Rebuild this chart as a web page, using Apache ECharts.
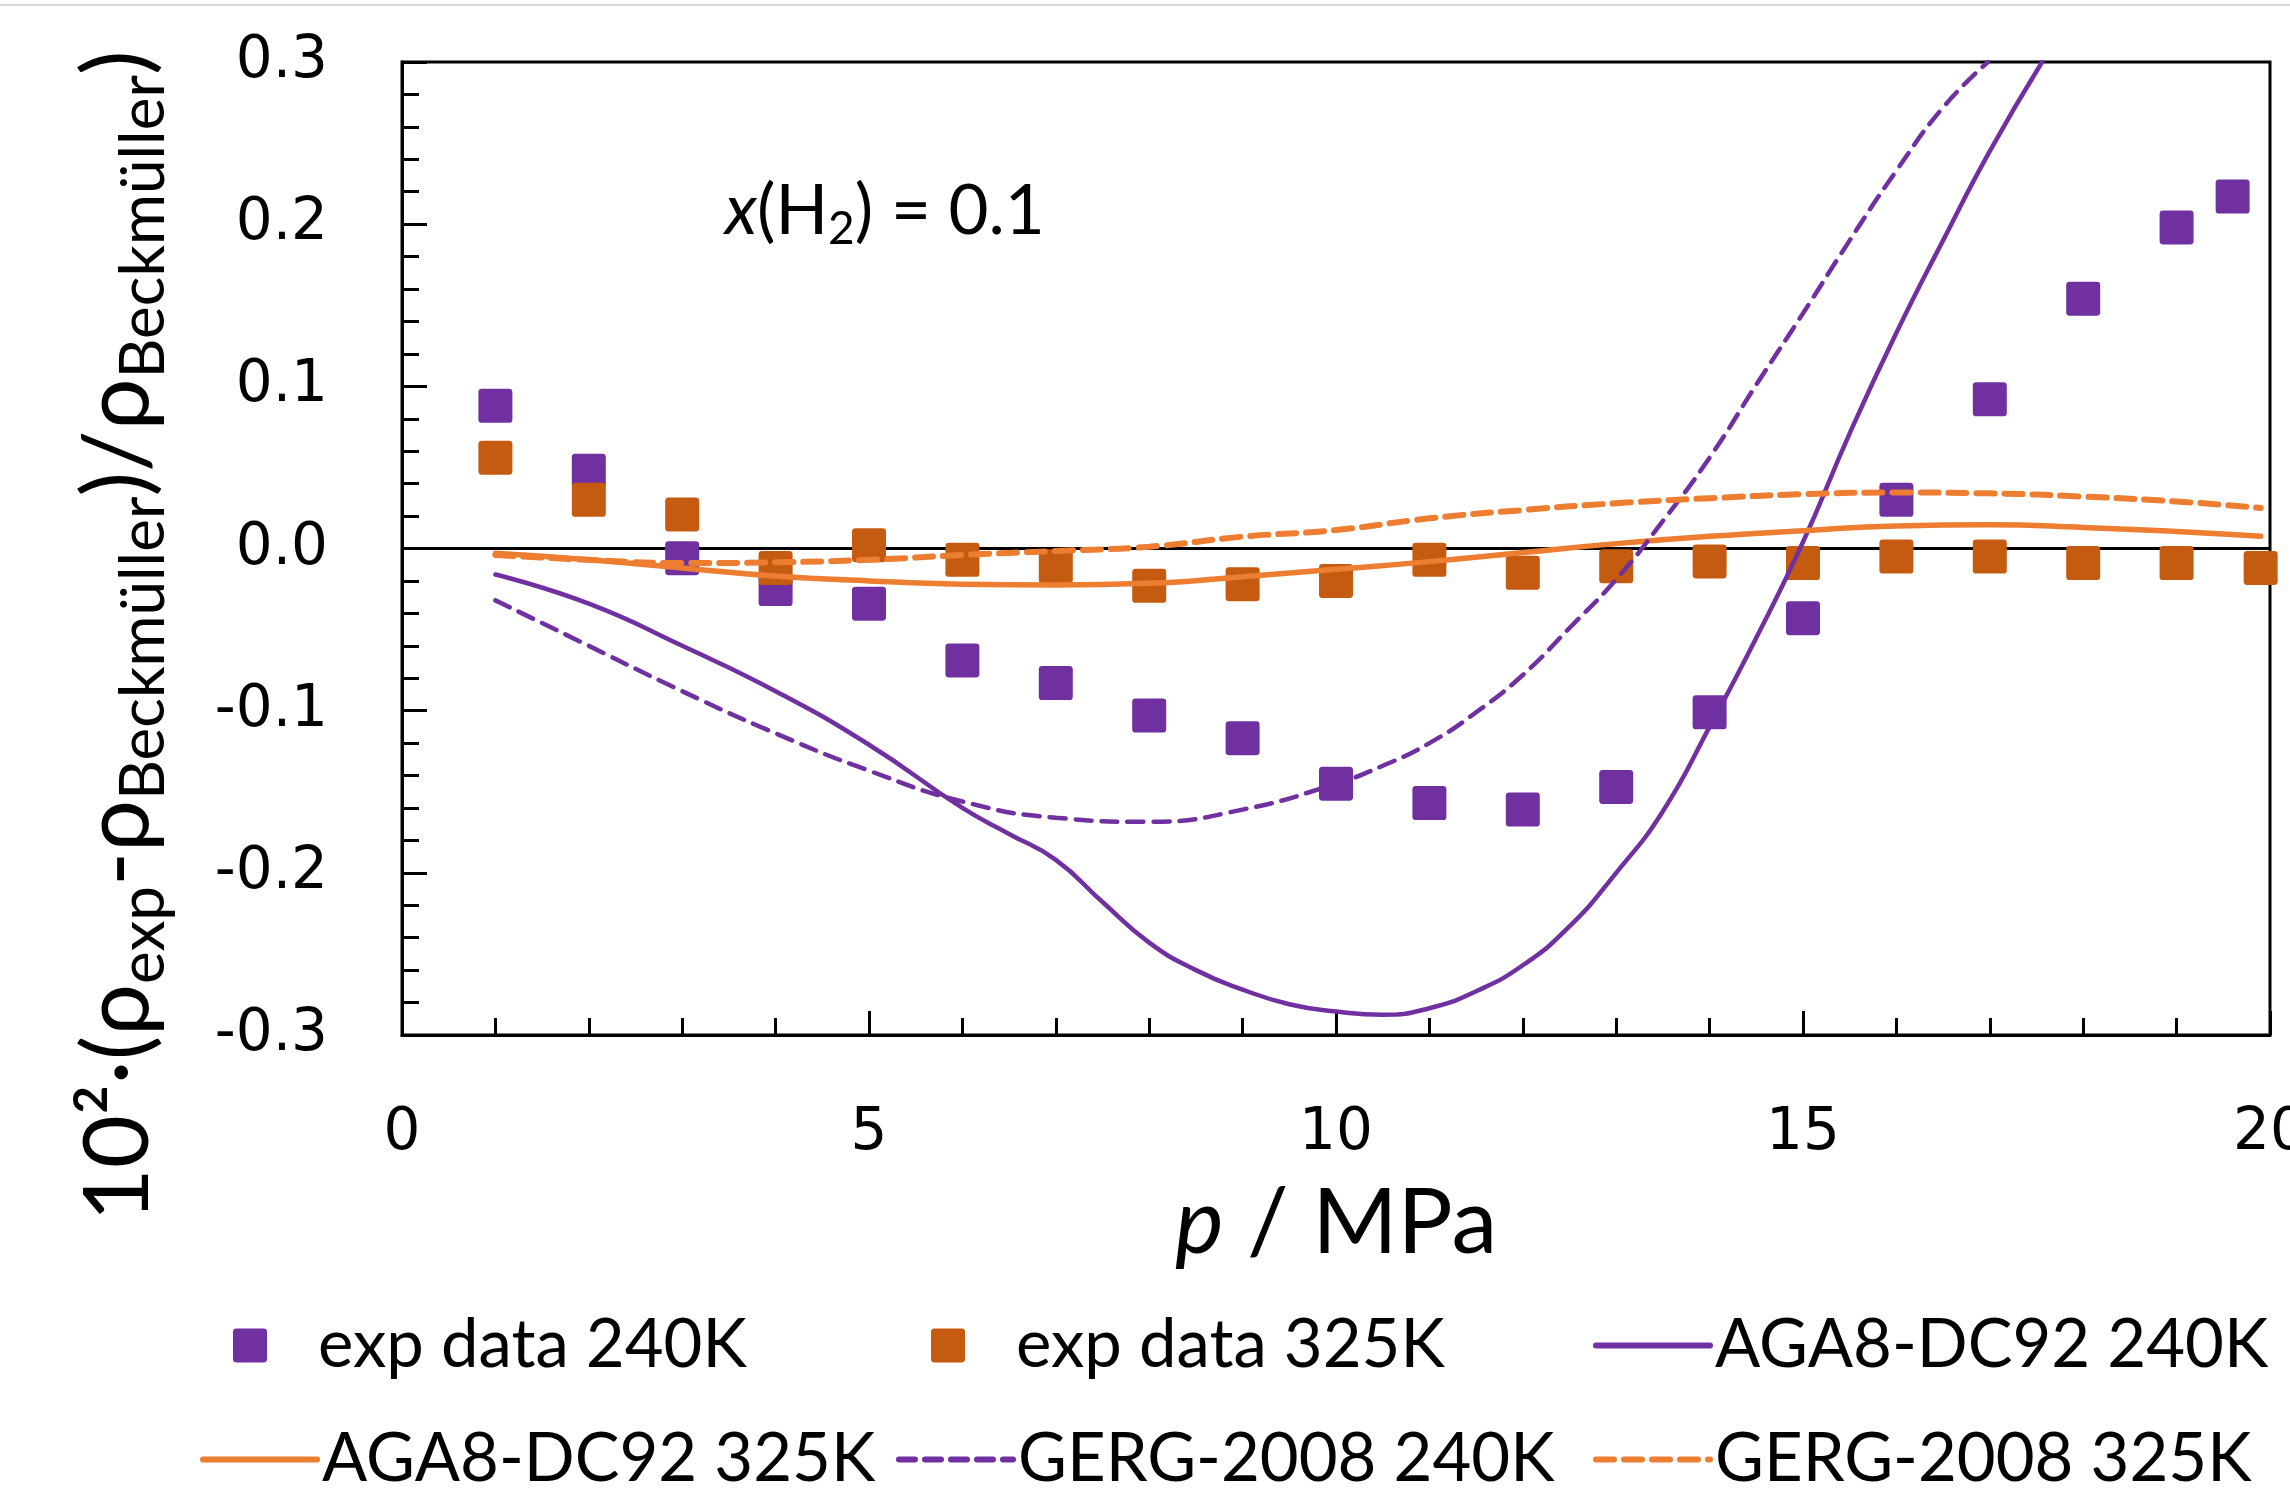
<!DOCTYPE html>
<html>
<head>
<meta charset="utf-8">
<title>x(H2) = 0.1</title>
<script src="https://cdn.jsdelivr.net/npm/echarts@6/dist/echarts.min.js"></script>
<style>
html, body { margin: 0; padding: 0; background: #fff; }
#chart { width: 2290px; height: 1497px; }
</style>
</head>
<body>
<div id="chart"></div>
<script>
// measured data, p in MPa, deviation in %
var expP240 = [1, 2, 3, 4, 5, 6, 7, 8, 9, 10, 11, 12, 13, 14, 15, 16, 17, 18, 19, 19.6];
var exp240 = [0.088, 0.048, -0.006, -0.025, -0.034, -0.069, -0.083, -0.103, -0.117, -0.145,
    -0.157, -0.161, -0.147, -0.101, -0.043, 0.030, 0.092, 0.154, 0.198, 0.217];

var expP325 = [1, 2, 3, 4, 5, 6, 7, 8, 9, 10, 11, 12, 13, 14, 15, 16, 17, 18, 19, 19.9];
var exp325 = [0.056, 0.030, 0.021, -0.012, 0.002, -0.007, -0.011, -0.023, -0.022, -0.020,
    -0.007, -0.015, -0.011, -0.008, -0.009, -0.005, -0.005, -0.009, -0.009, -0.012];

// equation of state curves
var agaP240 = [1, 2, 3, 4, 5, 6, 6.5, 7, 7.5, 8, 8.5, 9, 9.5, 10, 10.5, 11, 11.5, 12, 12.5, 13,
    13.5, 14, 14.5, 15, 15.5, 16, 16.5, 17, 17.56];
var aga240 = [-0.016, -0.034, -0.060, -0.088, -0.121, -0.160, -0.176, -0.192, -0.218, -0.243,
    -0.260, -0.272, -0.281, -0.2855, -0.2875, -0.2835, -0.273, -0.257, -0.233, -0.200,
    -0.162, -0.110, -0.055, 0.004, 0.071, 0.133, 0.190, 0.245, 0.300];

var gergP240 = [1, 2, 3, 4, 5, 6, 7, 8, 9, 10, 10.5, 11, 11.5, 12, 12.5, 13, 13.5, 14, 14.5, 15,
    15.5, 16, 16.5, 16.98];
var gerg240 = [-0.032, -0.060, -0.088, -0.114, -0.137, -0.156, -0.166, -0.1685, -0.161, -0.145,
    -0.134, -0.120, -0.101, -0.078, -0.049, -0.019, 0.017, 0.056, 0.101, 0.145, 0.190, 0.233,
    0.272, 0.300];

var modelP325 = [1, 2, 3, 4, 5, 6, 7, 8, 9, 10, 11, 12, 13, 14, 15, 16, 17, 18, 19, 19.9];
var aga325 = [-0.003, -0.007, -0.012, -0.017, -0.020, -0.022, -0.0225, -0.0215, -0.0174, -0.0128,
    -0.0081, -0.0025, 0.003, 0.0075, 0.011, 0.0139, 0.0146, 0.013, 0.0105, 0.0075];
var gerg325 = [-0.004, -0.007, -0.009, -0.0085, -0.007, -0.004, -0.0015, 0.0011, 0.0073, 0.0114,
    0.0186, 0.0237, 0.0279, 0.031, 0.0335, 0.0345, 0.034, 0.032, 0.029, 0.025];

var zeroP = [0, 20];
var zeroY = [0, 0];

var xTicks = [0, 5, 10, 15, 20];
var yTicks = [-0.3, -0.2, -0.1, 0.0, 0.1, 0.2, 0.3];

var purple = '#7030A0';
var orangeDark = '#C55A11';
var orange = '#ED7D31';
var squareIcon = 'path://M1,0H9A1,1,0,0,1,10,1V9A1,1,0,0,1,9,10H1A1,1,0,0,1,0,9V1A1,1,0,0,1,1,0Z';
var textFont = 'Lato';

function zip(xs, ys) {
    var out = [];
    for (var i = 0; i < xs.length; i++) {
        out.push([xs[i], ys[i]]);
    }
    return out;
}

function lineSeries(name, xs, ys, color, width, dash) {
    return {
        name: name,
        type: 'line',
        data: zip(xs, ys),
        symbol: 'none',
        smooth: 0.5,
        z: 4,
        lineStyle: { color: color, width: width, type: dash || 'solid', cap: 'round' },
        itemStyle: { color: color }
    };
}

function squareSeries(name, xs, ys, color) {
    return {
        name: name,
        type: 'scatter',
        data: zip(xs, ys),
        symbol: squareIcon,
        symbolSize: 34,
        z: 3,
        itemStyle: { color: color, opacity: 1 }
    };
}

function legendBox(name, left, top, square) {
    var box = {
        data: [name],
        left: left,
        top: top,
        padding: 0,
        selectedMode: false,
        itemWidth: square ? 34 : 114,
        itemHeight: square ? 34 : 14,
        textStyle: {
            fontFamily: textFont,
            fontSize: 67,
            color: '#000',
            padding: square ? [0, 0, 0, 46] : 0
        }
    };
    if (!square) {
        // line entries: no marker dot, thicker stroke as in the original
        box.itemStyle = { opacity: 0 };
        box.lineStyle = { width: 6 };
    }
    return box;
}

var chart = echarts.init(document.getElementById('chart'));

var option = {
    backgroundColor: '#fff',
    animation: false,
    grid: {
        left: 402,
        top: 62,
        width: 1868,
        height: 973,
        outerBoundsMode: 'none',
        containLabel: false,
        show: true,
        borderColor: '#000',
        borderWidth: 3,
        backgroundColor: 'transparent'
    },
    xAxis: {
        type: 'value',
        min: xTicks[0],
        max: xTicks[xTicks.length - 1],
        interval: 5,
        name: '{i|p} / MPa',
        nameLocation: 'middle',
        nameGap: 140,
        nameTextStyle: {
            fontFamily: textFont,
            fontSize: 92,
            lineHeight: 96,
            color: '#000',
            rich: {
                i: { fontFamily: textFont, fontSize: 92, fontStyle: 'italic', lineHeight: 96, color: '#000' }
            }
        },
        axisLine: { onZero: false, lineStyle: { color: '#000', width: 3 } },
        axisTick: { inside: true, length: 24, lineStyle: { color: '#000', width: 3 } },
        minorTick: { show: true, splitNumber: 5, length: 17, lineStyle: { color: '#000', width: 3 } },
        splitLine: { show: false },
        axisLabel: {
            margin: 70,
            fontFamily: 'DejaVu Sans',
            fontSize: 58,
            color: '#000',
            showMaxLabel: true,
            hideOverlap: false
        }
    },
    yAxis: {
        type: 'value',
        min: yTicks[0],
        max: yTicks[yTicks.length - 1],
        interval: 0.1,
        axisLine: { onZero: false, lineStyle: { color: '#000', width: 3 } },
        axisTick: { inside: true, length: 25, lineStyle: { color: '#000', width: 3 } },
        minorTick: { show: true, splitNumber: 5, length: 17, lineStyle: { color: '#000', width: 3 } },
        splitLine: { show: false },
        axisLabel: {
            margin: 74,
            fontFamily: 'DejaVu Sans',
            fontSize: 58,
            color: '#000',
            formatter: function (v) { return v.toFixed(1); }
        }
    },
    legend: [
        legendBox('exp data 240K', 233, 1312, true),
        legendBox('exp data 325K', 931, 1312, true),
        legendBox('AGA8-DC92 240K', 1593, 1312, false),
        legendBox('AGA8-DC92 325K', 200, 1426, false),
        legendBox('GERG-2008 240K', 896, 1426, false),
        legendBox('GERG-2008 325K', 1593, 1426, false)
    ],
    graphic: [
        {
            type: 'line',
            shape: { x1: 0, y1: 5, x2: 2290, y2: 5 },
            style: { stroke: '#d4d4d4', lineWidth: 2 },
            silent: true
        },
        {
            // y axis title, sits a bit below the plot centre like the original
            type: 'text',
            x: 118,
            y: 636,
            rotation: Math.PI / 2,
            silent: true,
            style: {
                text: '10²·({m|ρ}{s|exp}-{m|ρ}{s|Beckmüller})/{m|ρ}{s|Beckmüller})',
                fontFamily: textFont,
                fontSize: 92,
                lineHeight: 114,
                fill: '#000',
                align: 'center',
                verticalAlign: 'middle',
                rich: {
                    m: { fontFamily: textFont, fontSize: 92, lineHeight: 114, fill: '#000' },
                    s: { fontFamily: textFont, fontSize: 62, lineHeight: 44, verticalAlign: 'bottom', fill: '#000' }
                }
            }
        },
        {
            type: 'text',
            x: 725,
            y: 212,
            silent: true,
            style: {
                text: '{i|x}(H{s|2}) = 0.1',
                fontFamily: textFont,
                fontSize: 69,
                lineHeight: 80,
                fill: '#000',
                verticalAlign: 'middle',
                rich: {
                    i: { fontFamily: textFont, fontSize: 69, fontStyle: 'italic', lineHeight: 80, fill: '#000' },
                    s: { fontFamily: textFont, fontSize: 46, lineHeight: 35, verticalAlign: 'bottom', fill: '#000' }
                }
            }
        }
    ],
    series: [
        {
            name: 'zero',
            type: 'line',
            data: zip(zeroP, zeroY),
            symbol: 'none',
            z: 1,
            lineStyle: { color: '#000', width: 3 },
            silent: true
        },
        squareSeries('exp data 240K', expP240, exp240, purple),
        squareSeries('exp data 325K', expP325, exp325, orangeDark),
        lineSeries('AGA8-DC92 240K', agaP240, aga240, purple, 4.5),
        lineSeries('AGA8-DC92 325K', modelP325, aga325, orange, 5.5),
        lineSeries('GERG-2008 240K', gergP240, gerg240, purple, 4.5, [16, 10]),
        lineSeries('GERG-2008 325K', modelP325, gerg325, orange, 6, [18, 10])
    ]
};

chart.setOption(option);
</script>
</body>
</html>
